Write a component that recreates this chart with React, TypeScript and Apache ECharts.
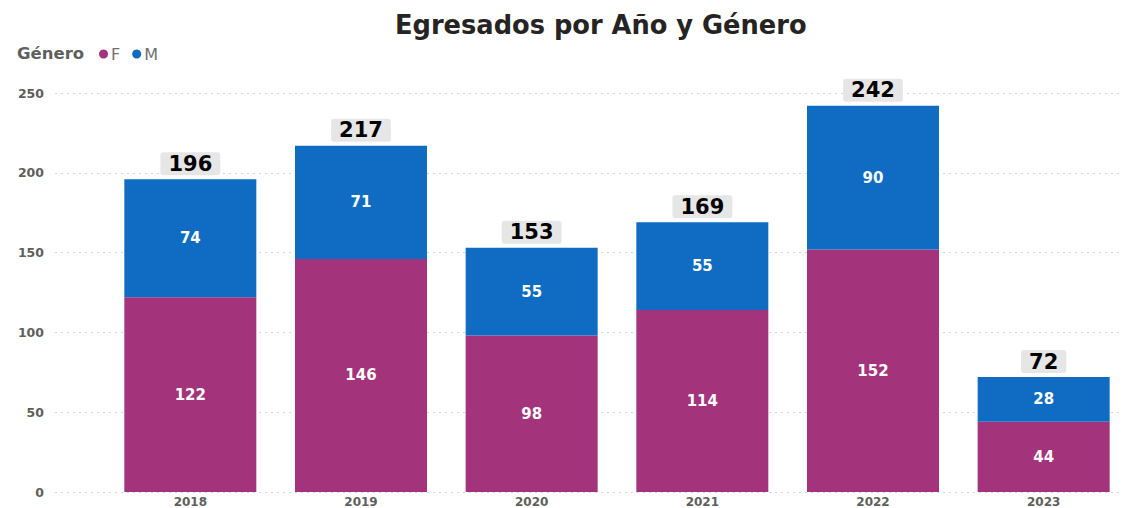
import React, { useEffect, useRef } from "react";
import * as echarts from "echarts";

const years = ["2018", "2019", "2020", "2021", "2022", "2023"];
const femenino = [122, 146, 98, 114, 152, 44];
const masculino = [74, 71, 55, 55, 90, 28];
const yTicks = [0, 50, 100, 150, 200, 250];

export default function App() {
  const ref = useRef<HTMLDivElement>(null);
  useEffect(() => {
    document.body.style.margin = "0";
    const chart = echarts.init(ref.current!, undefined, { renderer: "svg" });
    const totals = femenino.map((f, i) => f + masculino[i]);
    const font = "DejaVu Sans";
    chart.setOption({
      animation: false,
      textStyle: { fontFamily: font },
      title: {
        text: "Egresados por Año y Género",
        left: 390,
        top: 7,
        textStyle: { fontSize: 25.7, fontWeight: "bold", color: "#252423", fontFamily: font },
      },
      graphic: [
        {
          type: "text",
          left: 17,
          top: 45,
          style: { text: "Género", fontSize: 16.5, fontWeight: "bold", fill: "#5f5f5f", fontFamily: font },
        },
      ],
      legend: {
        left: 94,
        top: 41,
        icon: "circle",
        itemWidth: 9,
        itemHeight: 9,
        itemGap: 12,
        data: ["F", "M"],
        textStyle: { fontSize: 16, color: "#6f6f6f", fontFamily: font, padding: [0, 0, 0, -2] },
      },
      grid: [
        { left: 55, right: 18, top: 93, bottom: 16 },
        { left: 105, width: 1024, top: 93, bottom: 16 },
      ],
      xAxis: [
        { type: "category", gridIndex: 0, data: years, show: false },
        {
          type: "category",
          gridIndex: 1,
          data: years,
          axisLine: { show: false },
          axisTick: { show: false },
          axisLabel: { fontSize: 12, fontWeight: "bold", color: "#605E5C", margin: 4, fontFamily: font },
        },
      ],
      yAxis: [
        {
          type: "value",
          gridIndex: 0,
          min: yTicks[0],
          max: yTicks[yTicks.length - 1],
          interval: 50,
          axisLine: { show: false },
          axisTick: { show: false },
          axisLabel: { fontSize: 12.5, fontWeight: "bold", color: "#605E5C", margin: 11, fontFamily: font },
          splitLine: { lineStyle: { type: [2, 4], color: "#d6d6d6", width: 1 } },
        },
        {
          type: "value",
          gridIndex: 1,
          min: 0,
          max: 250,
          show: false,
          splitLine: { show: false },
        },
      ],
      series: [
        {
          name: "F",
          type: "bar",
          xAxisIndex: 1,
          yAxisIndex: 1,
          stack: "g",
          barWidth: 132,
          data: femenino,
          itemStyle: { color: "#A3337A" },
          label: { show: true, position: "inside", color: "#fff", fontSize: 15, fontWeight: "bold", fontFamily: font },
        },
        {
          name: "M",
          type: "bar",
          xAxisIndex: 1,
          yAxisIndex: 1,
          stack: "g",
          barWidth: 132,
          data: masculino,
          itemStyle: { color: "#106BC2" },
          label: { show: true, position: "inside", color: "#fff", fontSize: 15, fontWeight: "bold", fontFamily: font },
        },
        {
          name: "Total",
          type: "bar",
          xAxisIndex: 1,
          yAxisIndex: 1,
          stack: "g",
          barWidth: 132,
          data: totals.map(() => 0),
          itemStyle: { color: "transparent" },
          label: {
            show: true,
            position: "top",
            distance: 4,
            formatter: (p: any) => String(totals[p.dataIndex]),
            color: "#000",
            fontSize: 21,
            fontWeight: "bold",
            fontFamily: font,
            backgroundColor: "#E6E6E6",
            borderRadius: 3,
            padding: [1, 8, 1, 8],
          },
        },
      ],
    });
    return () => chart.dispose();
  }, []);
  return <div ref={ref} style={{ width: 1138, height: 508 }} />;
}
